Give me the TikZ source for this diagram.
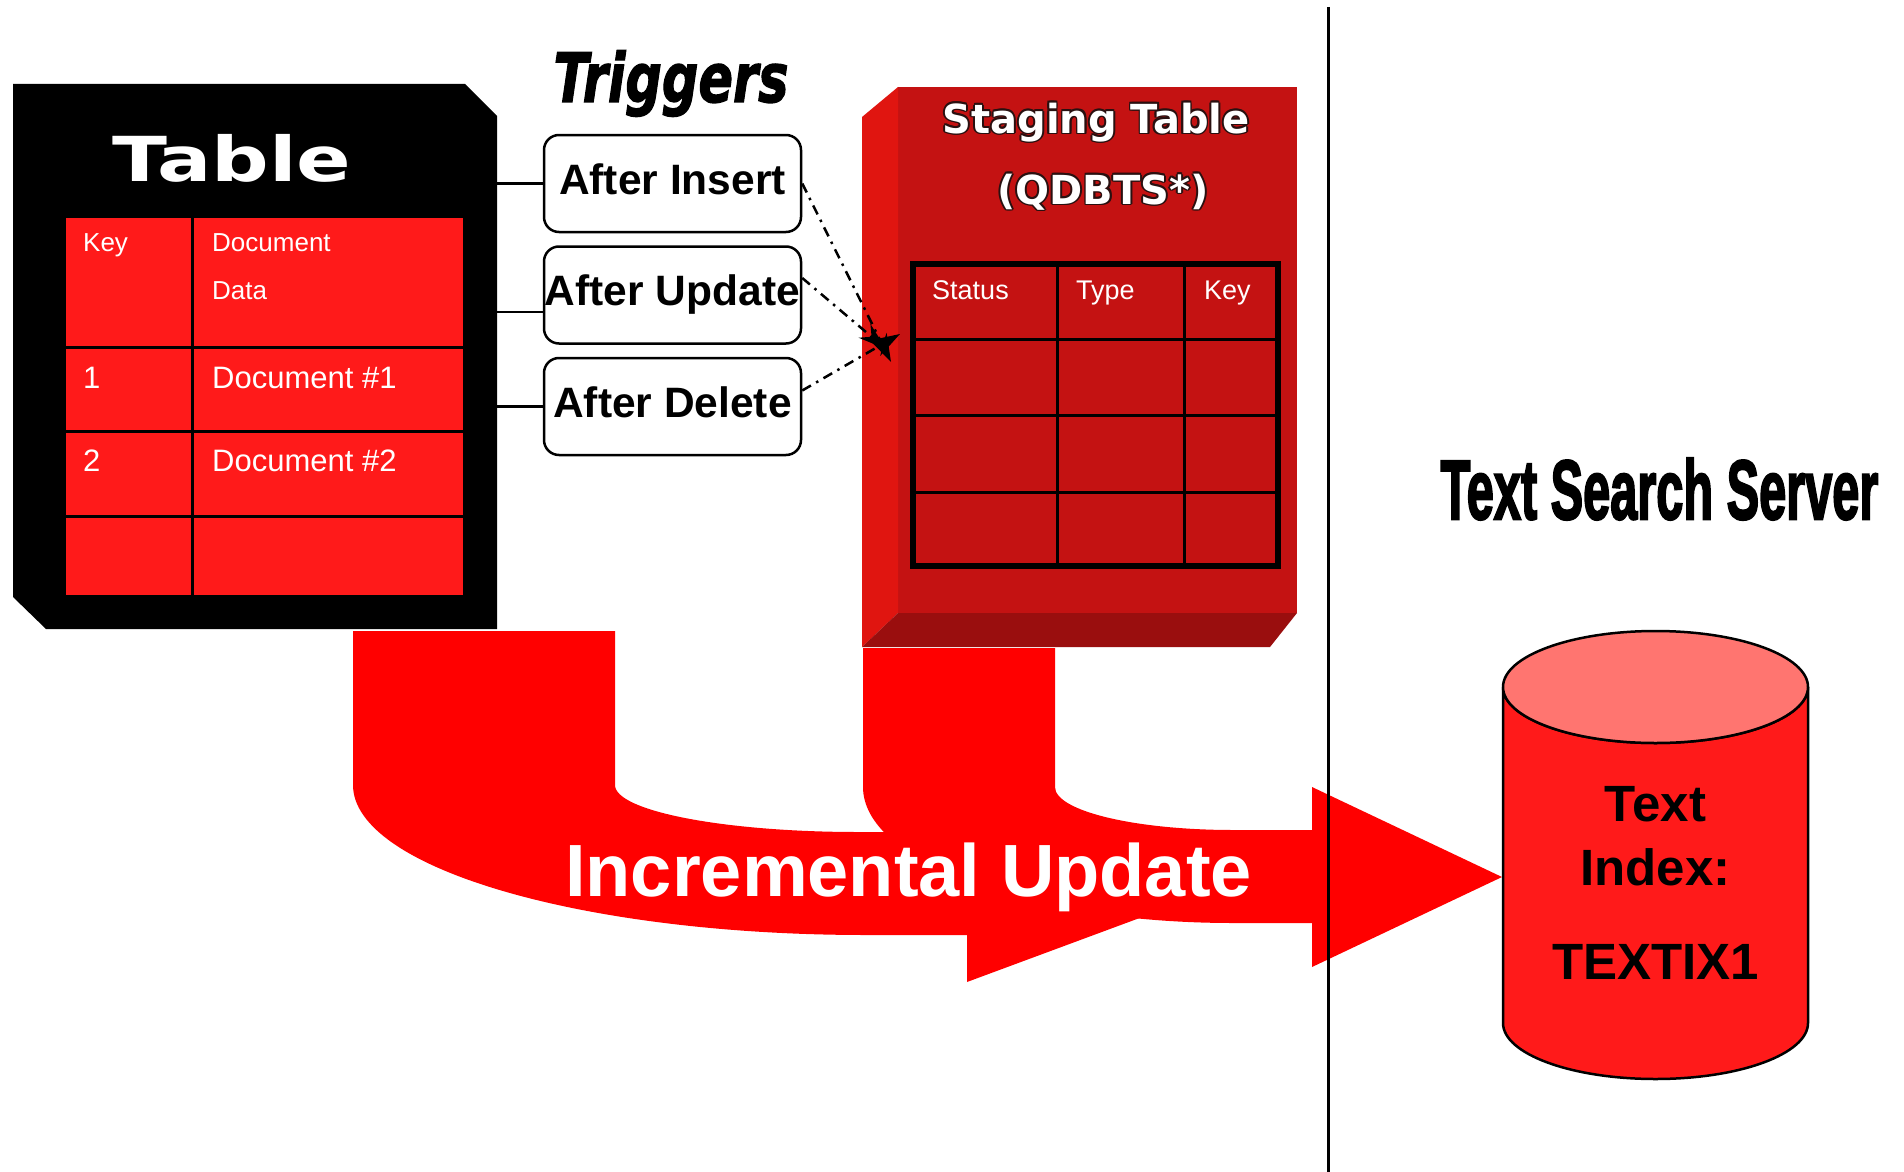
\documentclass[tikz,border=0pt]{standalone}
\usepackage{fontspec}
\usepackage{graphicx}
\setmainfont{Liberation Sans}
\newfontfamily\dejavu{DejaVu Sans}
\newfontface\trigfont[FakeBold=2]{DejaVu Sans Bold Oblique}
\newfontface\serverfont[FakeBold=3]{Liberation Sans Bold}
\usetikzlibrary{arrows.meta}

\definecolor{arrowred}{HTML}{FF0000}
\definecolor{cellred}{HTML}{FF1A1A}
\definecolor{stgfront}{HTML}{C41212}
\definecolor{stgside}{HTML}{E01510}
\definecolor{stgbottom}{HTML}{9A0E0E}
\definecolor{cyltop}{HTML}{FF7570}
\definecolor{rim}{HTML}{2A1010}

\tikzset{
  celltext/.style={text=white, font=\fontsize{26}{30}\selectfont, anchor=base west, inner sep=0pt},
  rowtext/.style={celltext, font=\fontsize{31}{36}\selectfont},
  trigbox/.style={draw, line width=2.5pt, rounded corners=15pt, fill=white,
    minimum width=257pt, minimum height=97pt, inner sep=0pt,
    text height=31pt, text depth=10pt, font=\bfseries\fontsize{42.5}{48}\selectfont},
  link/.style={line width=2.5pt},
  fire/.style={line width=2.5pt, dash pattern=on 10pt off 6pt on 2.5pt off 6pt,
    -{Stealth[length=28pt,width=18pt]}},
  stgcell/.style={text=white, font=\fontsize{27}{30}\selectfont, anchor=base west, inner sep=0pt},
  stgtitle/.style={text=white, font=\dejavu\bfseries\fontsize{40}{44}\selectfont, anchor=base, inner sep=0pt},
  idxtext/.style={font=\bfseries\fontsize{51}{56}\selectfont, anchor=base, inner sep=0pt},
  grid/.style={line width=3pt},
}

\begin{document}
\begin{tikzpicture}[x=1pt,y=-1pt]
\useasboundingbox (0,0) rectangle (1904,1172);

% ---- flow arrows (update path into the index) ----
\fill[arrowred] (353,631) -- (353,785)
  .. controls (353,868) and (583,935) .. (866,935)
  -- (967,935) -- (967,982) -- (1234,883) -- (967,784) -- (967,832) -- (858,832)
  .. controls (724,832) and (615,811) .. (615,785)
  -- (615,631) -- cycle;
\fill[arrowred] (863,648) -- (863,787)
  .. controls (863,862) and (1029,923) .. (1233,923)
  -- (1312,923) -- (1312,967) -- (1502,877) -- (1312,787) -- (1312,830) -- (1233,830)
  .. controls (1135,830) and (1055,811) .. (1055,787)
  -- (1055,648) -- cycle;

% ---- base table ----
\node[minimum width=484pt, minimum height=545pt, inner sep=0pt] (tbl) at (255,356.5) {};
\fill[black] (13,84) -- (465,84) -- (497,116) -- (497,629) -- (46,629) -- (13,597) -- cycle;
\fill[cellred] (66,218) rectangle (463,595);
\draw[grid] (192,218) -- (192,595);
\foreach \yy in {347,431,516} \draw[grid] (66,\yy) -- (463,\yy);
\node[text=white, anchor=base, inner sep=0pt] (ttl) at (232,181)
  {\dejavu\bfseries\fontsize{62}{62}\selectfont\scalebox{1.3}[1]{Table}};
\node[celltext] (hkey) at (83,251) {Key};
\node[celltext] (hdoc) at (212,251) {Document};
\node[celltext] (hdata) at (212,299) {Data};
\node[rowtext] (k1) at (83,388) {1};
\node[rowtext] (d1) at (212,388) {Document \#1};
\node[rowtext] (k2) at (83,471) {2};
\node[rowtext] (d2) at (212,471) {Document \#2};

% ---- staging table ----
\node[fill=stgfront, minimum width=399pt, minimum height=526pt, inner sep=0pt] (stg) at (1097.5,350) {};
\fill[stgside] (862,117) -- (898,87) -- (898,613) -- (862,647) -- cycle;
\fill[stgbottom] (862,647) -- (898,613) -- (1297,613) -- (1270,647) -- cycle;
\draw[line width=5.5pt] (913,264) rectangle (1278,566);
\foreach \xx in {1057,1184} \draw[grid] (\xx,264) -- (\xx,566);
\foreach \yy in {339,415,492} \draw[grid] (913,\yy) -- (1278,\yy);
\node[stgcell] (sst) at (932,299) {Status};
\node[stgcell] (sty) at (1076,299) {Type};
\node[stgcell] (ske) at (1204,299) {Key};
\foreach \dx/\dy in {-1.8/0,1.8/0,0/-1.8,0/1.8,-1.3/-1.3,1.3/-1.3,-1.3/1.3,1.3/1.3}{
  \node[stgtitle, text=rim] at (1096+\dx,133+\dy) {Staging Table};
  \node[stgtitle, text=rim] at (1103+\dx,204+\dy) {(QDBTS*)};
}
\node[stgtitle] (stgA) at (1096,133) {Staging Table};
\node[stgtitle] (stgB) at (1103,204) {(QDBTS*)};

% ---- triggers ----
\node[anchor=base, inner sep=0pt] (trg) at (671,102)
  {\trigfont\fontsize{68}{68}\selectfont\scalebox{0.75}[1]{Triggers}};
\node[trigbox] (trigA) at (672.5,183.5) {After Insert};
\node[trigbox] (trigB) at (672.5,295) {After Update};
\node[trigbox] (trigC) at (672.5,406.5) {After Delete};
\draw[link] (trigA.west) -- (trigA.west -| tbl.east);
\draw[link] ([yshift=-17pt]trigB.west) -- ([yshift=-17pt]trigB.west -| tbl.east);
\draw[link] (trigC.west) -- (trigC.west -| tbl.east);

\coordinate (hitI) at (891,362);
\coordinate (hitU) at (886,349);
\coordinate (hitD) at (900,334);
\draw[fire] (trigA.east) -- (hitI);
\draw[fire] ([yshift=17pt]trigB.east) -- (hitU);
\draw[fire] ([yshift=16pt]trigC.east) -- (hitD);

% ---- arrow label ----
\node[text=white, anchor=base west, inner sep=0pt, font=\bfseries\fontsize{74}{80}\selectfont]
  (inc) at (565,896) {Incremental Update};

% ---- text search server ----
\node[anchor=base, inner sep=0pt] (tss) at (1659.5,519)
  {\serverfont\fontsize{84}{84}\selectfont\scalebox{0.58}[1]{Text Search Server}};
\filldraw[fill=cellred, line width=2.5pt] (1503,687) -- (1503,1023)
  arc[start angle=180, end angle=0, x radius=152.5, y radius=56]
  -- (1808,687)
  arc[start angle=0, end angle=180, x radius=152.5, y radius=56] -- cycle;
\filldraw[fill=cyltop, line width=2.5pt] (1655.5,687) ellipse[x radius=152.5, y radius=56];
\node[idxtext] (idxA) at (1655.5,821) {Text};
\node[idxtext] (idxB) at (1655.5,885) {Index:};
\node[idxtext] (idxC) at (1655.5,979) {TEXTIX1};

% ---- divider ----
\draw[line width=3pt] (1328,7) -- (1328,1172);
\end{tikzpicture}
\end{document}
